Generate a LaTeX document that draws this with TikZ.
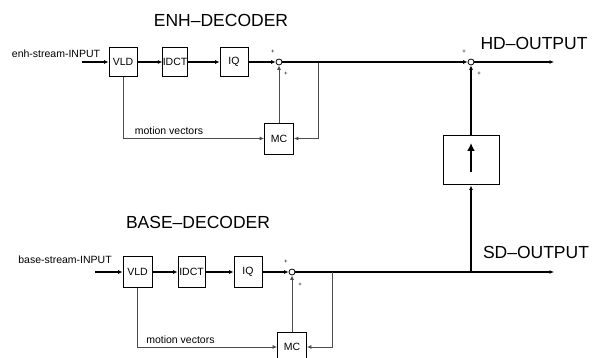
\documentclass[tikz,border=0pt]{standalone}
\usepackage{fontspec}
\setmainfont{Liberation Sans}
\usetikzlibrary{arrows.meta}

\tikzset{
  blk/.style={draw, line width=0.8pt, minimum width=28pt, minimum height=29pt, inner sep=0pt, font=\fontsize{10.5}{12}\selectfont},
  sumpt/.style={circle, draw, fill=white, line width=0.8pt, inner sep=0pt, minimum size=6pt},
  title/.style={font=\fontsize{17.5}{20}\selectfont},
  lbl/.style={font=\fontsize{10.5}{12}\selectfont},
  pls/.style={font=\fontsize{6}{7}\selectfont, inner sep=0pt},
  sig/.style={line width=1.3pt, -{Latex[length=4.5pt,width=4pt]}},
  fb/.style={line width=0.9pt, draw=black!70, -{Latex[length=4.5pt,width=4pt]}},
}

\begin{document}
\begin{tikzpicture}[x=1pt, y=-1pt]
        \useasboundingbox (0,0) rectangle (598,358);
        \clip (0,0) rectangle (598,358);

        % Enhancement decoder
        \node[title] (enhT) at (221,20) {ENH--DECODER};
        \node[lbl] (enhIn) at (56,54) {enh-stream-INPUT};
        \coordinate (inE) at (82,62);
        \node[blk] (vldE) at (123,62) {VLD};
        \node[blk, minimum width=22pt] (idctE) at (175,62) {IDCT};
        \node[blk] (iqE) at (234,62) {IQ};
        \node[sumpt] (sumE) at (279,62) {};
        \node[blk, minimum width=29pt, minimum height=31pt] (mcE) at (279,138.5) {MC};
        \node[pls] (p1) at (273,52) {+};
        \node[pls] (p2) at (286,74) {+};
        \draw[sig] (inE) -- (vldE);
        \draw[sig] (vldE) -- (idctE);
        \draw[sig] (idctE) -- (iqE);
        \draw[sig] (iqE) -- (sumE);
        \draw[fb] (vldE.south) |- (mcE.west)
            node[lbl, pos=0.5, anchor=south west, xshift=8pt, black] (mvE) {motion vectors};
        \draw[fb] (mcE.north) -- (sumE.south);
        \coordinate (brE) at (318,62);
        \draw[line width=1.3pt] (sumE) -- (brE);
        \draw[fb] (brE) |- (mcE.east);

        % HD output
        \node[sumpt] (sumH) at (471,62) {};
        \node[pls] (p3) at (464,52) {+};
        \node[pls] (p4) at (479,74) {+};
        \coordinate (hdE) at (554,62);
        \node[title] (hdT) at (534,43) {HD--OUTPUT};
        \draw[sig] (brE) -- (sumH);
        \draw[sig] (sumH) -- (hdE);

        % Upsampling
        \node[draw, line width=1pt, minimum width=56pt, minimum height=49pt] (up) at (471,160.5) {};
        \draw[line width=2.8pt, -{Latex[length=8pt,width=8pt]}] ([yshift=-11.5pt]up.center) -- ([yshift=17.5pt]up.center);
        \draw[sig] (up.north) -- (sumH.south);

        % Base decoder
        \node[title] (baseT) at (198,222) {BASE--DECODER};
        \node[lbl] (baseIn) at (65,260) {base-stream-INPUT};
        \coordinate (inB) at (95,272);
        \node[blk, minimum width=29pt, minimum height=31pt] (vldB) at (137.5,272) {VLD};
        \node[blk, minimum width=27pt, minimum height=31pt] (idctB) at (191.5,272) {IDCT};
        \node[blk, minimum height=31pt] (iqB) at (248,272) {IQ};
        \node[sumpt] (sumB) at (292,272) {};
        \node[blk, minimum width=29pt, minimum height=30pt] (mcB) at (292,347) {MC};
        \node[pls] (p5) at (286,262) {+};
        \node[pls] (p6) at (300,285) {+};
        \draw[sig] (inB) -- (vldB);
        \draw[sig] (vldB) -- (idctB);
        \draw[sig] (idctB) -- (iqB);
        \draw[sig] (iqB) -- (sumB);
        \draw[fb] (vldB.south) |- (mcB.west)
            node[lbl, pos=0.5, anchor=south west, xshift=5pt, black] (mvB) {motion vectors};
        \draw[fb] (mcB.north) -- (sumB.south);
        \coordinate (brB) at (332,272);
        \coordinate (upB) at (471,272);
        \coordinate (sdE) at (554,272);
        \draw[line width=1.3pt] (sumB) -- (brB) -- (upB);
        \draw[fb] (brB) |- (mcB.east);
        \draw[sig] (upB) -- (up.south);
        \draw[sig] (upB) -- (sdE);
        \node[title] (sdT) at (536,252) {SD--OUTPUT};
\end{tikzpicture}
\end{document}
